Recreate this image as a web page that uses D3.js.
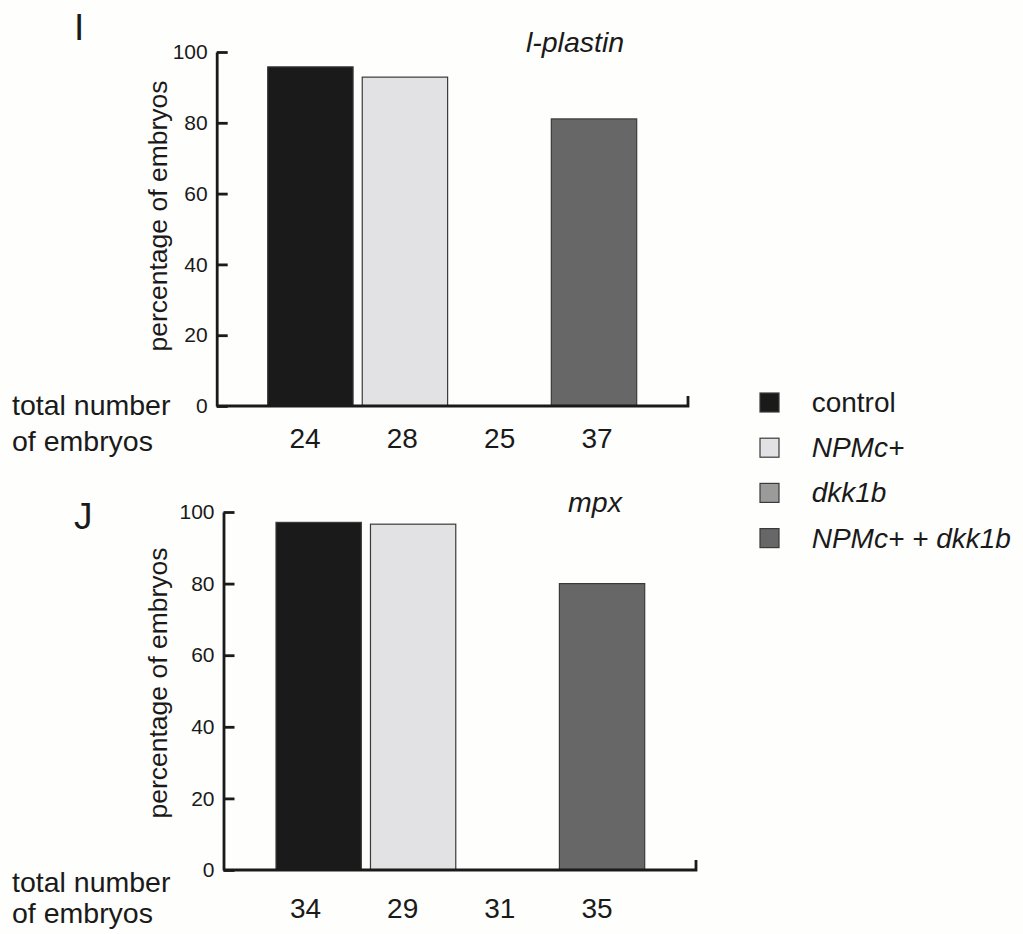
<!DOCTYPE html>
<html>
<head>
<meta charset="utf-8">
<script src="https://cdn.jsdelivr.net/npm/d3@7"></script>
<style>
  html, body { margin: 0; padding: 0; background: #fefefd; }
  svg { display: block; }
  text { font-family: "Liberation Sans", Arial, Helvetica, sans-serif; fill: #1a1a1a; }
</style>
</head>
<body>
<svg id="chart" width="1023" height="934"></svg>
<script>
// Groups (legend order) and the two panels' values
const groups = ["control", "NPMc+", "dkk1b", "NPMc+ + dkk1b"];
const groupItalic = [false, true, true, true];

// I: l-plastin — percentage of embryos and total number of embryos per group
const lplastinPct = [95.8, 92.9, 0, 81.1];
const lplastinN = [24, 28, 25, 37];

// J: mpx
const mpxPct = [97.1, 96.6, 0, 80.0];
const mpxN = [34, 29, 31, 35];

const yTicks = [0, 20, 40, 60, 80, 100];

const fills = ["#1a1a1a", "#e2e1e3", "#9b9b9b", "#676767"];
const ink = "#1a1a1a";

const svg = d3.select("#chart");

function panel(cfg) {
  const g = svg.append("g");
  const y = d3.scaleLinear().domain([0, 100]).range([cfg.y0, cfg.y100]);
  const x = d3.scaleBand().domain(groups).range(cfg.barRange)
    .paddingInner(0.097).paddingOuter(0);
  const nx = d3.scalePoint().domain(groups).range(cfg.countRange);

  // bars
  g.selectAll("rect.bar")
    .data(groups.map((k, i) => ({ k, v: cfg.pct[i], i })))
    .join("rect")
    .attr("class", "bar")
    .attr("x", d => x(d.k))
    .attr("width", x.bandwidth())
    .attr("y", d => y(d.v))
    .attr("height", d => y(0) - y(d.v))
    .attr("fill", d => fills[d.i])
    .attr("stroke", "#3a3a3a")
    .attr("stroke-width", 1.2)
    .style("display", d => d.v > 0 ? null : "none");

  // y axis with inward ticks
  const ax = g.append("g")
    .attr("transform", `translate(${cfg.axisX},0)`)
    .call(d3.axisLeft(y).tickValues(yTicks).tickSizeInner(-11).tickSizeOuter(0).tickPadding(9));
  ax.select(".domain").attr("stroke", ink).attr("stroke-width", 2.8);
  ax.selectAll(".tick line").attr("stroke", ink).attr("stroke-width", 2.8);
  ax.selectAll(".tick text")
    .attr("fill", ink)
    .style("font-family", "'Liberation Sans Narrow', 'Arial Narrow', 'Liberation Sans', sans-serif")
    .style("font-size", "21px");

  // x axis baseline with the small closing tick
  g.append("path")
    .attr("d", `M${cfg.axisX},${y(0)}H${cfg.xEnd}V${y(0) - 10}`)
    .attr("fill", "none")
    .attr("stroke", ink)
    .attr("stroke-width", 2.8);

  // total numbers of embryos
  g.selectAll("text.count")
    .data(groups.map((k, i) => ({ k, n: cfg.counts[i] })))
    .join("text")
    .attr("class", "count")
    .attr("x", d => nx(d.k))
    .attr("y", cfg.countY)
    .attr("text-anchor", "middle")
    .style("font-size", "28px")
    .text(d => d.n);

  // row caption
  const cap = g.append("text").style("font-size", "28.5px");
  cap.append("tspan").attr("x", 12).attr("y", cfg.capY1).text("total number");
  cap.append("tspan").attr("x", 12).attr("y", cfg.capY2).text("of embryos");

  // y axis title
  g.append("text")
    .attr("transform", `translate(${cfg.titleX},${cfg.titleY}) rotate(-90)`)
    .attr("text-anchor", "middle")
    .style("font-size", "26.5px")
    .text("percentage of embryos");

  // gene name
  g.append("text")
    .attr("x", cfg.geneX)
    .attr("y", cfg.geneY)
    .attr("text-anchor", "middle")
    .style("font-size", "28.5px")
    .style("font-style", "italic")
    .text(cfg.gene);

  // panel letter
  g.append("text")
    .attr("x", 74)
    .attr("y", cfg.letterY)
    .style("font-size", "37px")
    .text(cfg.letter);
}

panel({
  letter: "I", letterY: 40, gene: "l-plastin", geneX: 575, geneY: 52,
  pct: lplastinPct, counts: lplastinN,
  y0: 406, y100: 52, axisX: 216.7, xEnd: 688,
  barRange: [267.7, 636.7], countRange: [305, 597], countY: 448,
  capY1: 415, capY2: 451, titleX: 167, titleY: 216
});

panel({
  letter: "J", letterY: 529, gene: "mpx", geneX: 595, geneY: 512,
  pct: mpxPct, counts: mpxN,
  y0: 870, y100: 512, axisX: 223.5, xEnd: 696,
  barRange: [276, 644.7], countRange: [305.5, 597], countY: 918,
  capY1: 892, capY2: 923, titleX: 167, titleY: 683
});

// legend
const legend = svg.append("g").attr("transform", "translate(760,393)");
const rows = legend.selectAll("g.row")
  .data(groups.map((k, i) => ({ k, i })))
  .join("g")
  .attr("class", "row")
  .attr("transform", d => `translate(0,${d.i * 45.2})`);
rows.append("rect")
  .attr("width", 19).attr("height", 19)
  .attr("fill", d => fills[d.i])
  .attr("stroke", "#3a3a3a")
  .attr("stroke-width", 1.2);
rows.append("text")
  .attr("x", 51.7)
  .attr("y", 19)
  .style("font-size", "28px")
  .style("font-style", d => groupItalic[d.i] ? "italic" : "normal")
  .text(d => d.k);
</script>
</body>
</html>
